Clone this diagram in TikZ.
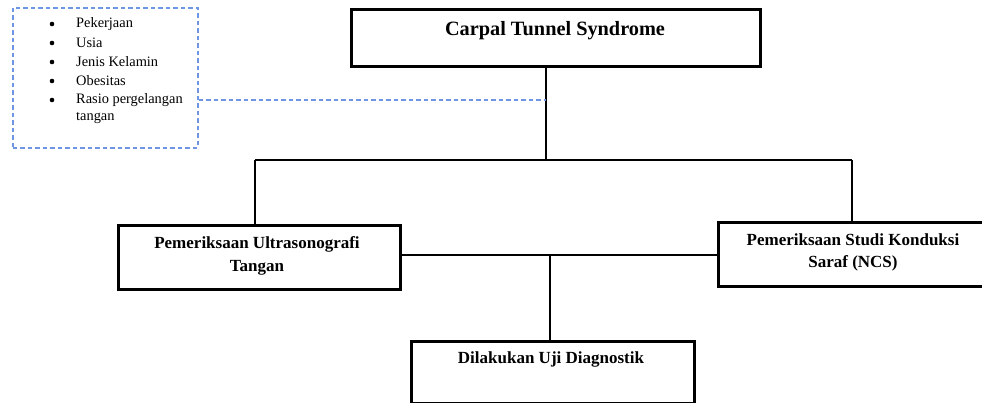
\documentclass[tikz,border=0pt]{standalone}
\usepackage{fontspec}
\setmainfont{Liberation Serif}
\definecolor{dashblue}{RGB}{110,150,228}
\begin{document}
\begin{tikzpicture}[x=1pt,y=-1pt,
  box/.style={draw=black,line width=3pt,inner sep=0pt,anchor=north west},
  conn/.style={line width=2.2pt},
  thinconn/.style={line width=1.4pt},
  bluedash/.style={draw=dashblue,line width=1.5pt,dash pattern=on 4.5pt off 3pt},
  ttl/.style={font=\fontsize{20.3}{22}\selectfont\bfseries,align=center},
  mid/.style={font=\fontsize{17}{22.5}\selectfont\bfseries,align=center},
  itm/.style={font=\fontsize{14.4}{16}\selectfont,anchor=west,inner sep=0pt}]
\useasboundingbox (0,0) rectangle (982,402);
\clip (0,0) rectangle (982,402);
% boxes
\node[box,minimum width=409pt,minimum height=57pt] (top) at (350,8) {};
\node[ttl] (toptxt) at (555,31) {Carpal Tunnel Syndrome};
\node[box,minimum width=282pt,minimum height=64pt] (left) at (117,224) {};
\node[mid] (lefttxt) at (257,256) {Pemeriksaan Ultrasonografi\\Tangan};
\node[box,minimum width=280pt,minimum height=64pt] (right) at (717,221) {};
\node[mid] (righttxt) at (853,252.5) {Pemeriksaan Studi Konduksi\\Saraf (NCS)};
\node[box,minimum width=283pt,minimum height=62pt] (bot) at (410,340) {};
\node[mid] (bottxt) at (551,359) {Dilakukan Uji Diagnostik};
% dashed list box
\node[bluedash,minimum width=185pt,minimum height=140pt,inner sep=0pt,anchor=north west] (list) at (12,7) {};
\foreach \t/\yy in {Pekerjaan/24,Usia/43,Jenis Kelamin/62,Obesitas/81,Rasio pergelangan/100}{
  \fill (52,\yy) circle (2.3pt);
  \node[itm] at (76,\yy) {\t};
}
\node[itm] (tangan) at (76,118) {tangan};
% connectors
\coordinate (j1) at (546,160);
\coordinate (jl) at (255,160);
\coordinate (jr) at (852,160);
\coordinate (dj) at (546,100);
\draw[conn] (top.south -| j1) -- (j1);
\draw[conn] (jl) -- (jr);
\draw[conn] (jl) -- (left.north -| jl);
\draw[conn] (jr) -- (right.north -| jr);
\draw[bluedash] (list.east |- dj) -- (dj);
\coordinate (hb) at (550,255);
\draw[thinconn] (left.east |- hb) -- (right.west |- hb);
\draw[thinconn] (hb) -- (bot.north -| hb);
\end{tikzpicture}
\end{document}
